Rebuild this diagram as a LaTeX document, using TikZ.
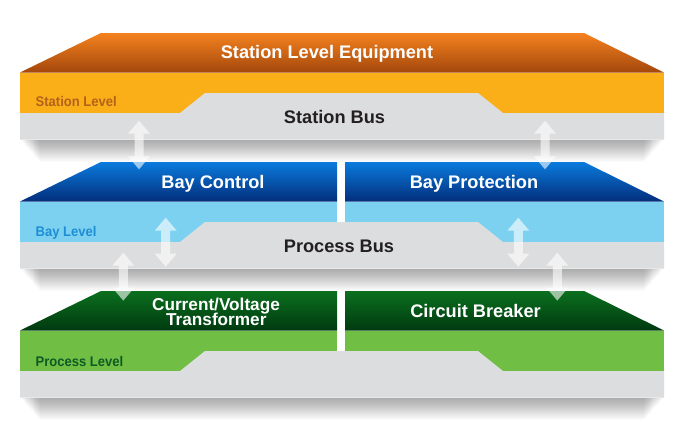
\documentclass[tikz,border=0pt]{standalone}
\usepackage{fontspec}
\setmainfont{Liberation Sans}
\usetikzlibrary{calc}
\definecolor{orTop}{HTML}{F5821F}
\definecolor{orBot}{HTML}{A3470C}
\definecolor{orBand}{HTML}{FAAF19}
\definecolor{orLbl}{HTML}{B4621A}
\definecolor{blTop}{HTML}{0A7BDD}
\definecolor{blBot}{HTML}{032E7C}
\definecolor{blBand}{HTML}{7DD1F0}
\definecolor{blLbl}{HTML}{1E8ED4}
\definecolor{grTop}{HTML}{0B6F1E}
\definecolor{grBot}{HTML}{003A10}
\definecolor{grBand}{HTML}{71BE45}
\definecolor{grLbl}{HTML}{0D5B24}
\definecolor{busGray}{HTML}{DCDDDE}
\definecolor{busTxt}{HTML}{231F20}
\newcommand\dblarr[2]{%
  \fill[arrowfill] (#1) -- ($(#1)+(11,13)$) -- ($(#1)+(4.5,13)$) -- ($(#2)+(4.5,-13)$)
    -- ($(#2)+(11,-13)$) -- (#2) -- ($(#2)+(-11,-13)$) -- ($(#2)+(-4.5,-13)$)
    -- ($(#1)+(-4.5,13)$) -- ($(#1)+(-11,13)$) -- cycle;}
\newcommand\busshape{(20,80) -- (180,80) -- (205,60) -- (478,60) -- (503,80) -- (664,80) -- (664,106.5) -- (20,106.5) -- cycle}
\newcommand\dropshadow{%
  \foreach \i in {1,...,22}{\fill[black,opacity=0.014] (20+\i*0.9,106.5) rectangle (664-\i*0.9,106.5+1.0*\i);}}
\begin{document}
\begin{tikzpicture}[x=1pt,y=-1pt,
  headtxt/.style={text=white,font=\bfseries\fontsize{18.2}{18}\selectfont,inner sep=0pt,anchor=base},
  bustxt/.style={text=busTxt,font=\bfseries\fontsize{18.2}{18}\selectfont,inner sep=0pt,anchor=base},
  lbl/.style={font=\bfseries\fontsize{14}{14}\selectfont,inner sep=0pt,anchor=base west,xscale=0.93},
  arrowfill/.style={fill=white,fill opacity=0.6}]
\useasboundingbox (0,0) rectangle (691,421);
\fill[white] (0,0) rectangle (691,421);

% ---- Station level ----
\begin{scope}[shift={(0,33)}]
  \shade[top color=orTop,bottom color=orBot] (101,0) -- (584,0) -- (664,39.5) -- (20,39.5) -- cycle;
  \fill[orBand] (20,39.5) rectangle (664,80);
  \fill[busGray] \busshape;
  \dropshadow
\end{scope}

% ---- Bay level ----
\begin{scope}[shift={(0,162)}]
  \shade[top color=blTop,bottom color=blBot] (101,0) -- (337,0) -- (337,39.5) -- (20,39.5) -- cycle;
  \shade[top color=blTop,bottom color=blBot] (345,0) -- (584,0) -- (664,39.5) -- (345,39.5) -- cycle;
  \fill[blBand] (20,39.5) rectangle (337,80);
  \fill[blBand] (345,39.5) rectangle (664,80);
  \fill[busGray] \busshape;
  \dropshadow
\end{scope}

% ---- Process level ----
\begin{scope}[shift={(0,291)}]
  \shade[top color=grTop,bottom color=grBot] (101,0) -- (337,0) -- (337,39.5) -- (20,39.5) -- cycle;
  \shade[top color=grTop,bottom color=grBot] (345,0) -- (584,0) -- (664,39.5) -- (345,39.5) -- cycle;
  \fill[grBand] (20,39.5) rectangle (337,80);
  \fill[grBand] (345,39.5) rectangle (664,80);
  \fill[busGray] \busshape;
  \dropshadow
\end{scope}

% ---- texts ----
\node[headtxt] (sle) at (327,58.3) {Station Level Equipment};
\node[lbl,text=orLbl] (sl) at (35.5,106) {Station Level};
\node[bustxt] (sb) at (334.5,123.7) {Station Bus};
\node[headtxt] (bc) at (213,188.5) {Bay Control};
\node[headtxt] (bp) at (474,188.5) {Bay Protection};
\node[lbl,text=blLbl] (bl) at (35.5,236) {Bay Level};
\node[bustxt] (pb) at (339,252.8) {Process Bus};
\node[headtxt,font=\bfseries\fontsize{17.2}{17}\selectfont] (cv) at (216,310) {Current/Voltage};
\node[headtxt,font=\bfseries\fontsize{17.2}{17}\selectfont] (tr) at (216.3,325.7) {Transformer};
\node[headtxt] (cb) at (475.5,317.8) {Circuit Breaker};
\node[lbl,text=grLbl] (pl) at (35.5,366) {Process Level};

% ---- arrows ----
\coordinate (a1t) at (139,120.7);   \coordinate (a1b) at (139,169.3);
\coordinate (a4t) at (545,120.7);   \coordinate (a4b) at (545,169.3);
\coordinate (a2t) at (165.7,217.7); \coordinate (a2b) at (165.7,266.7);
\coordinate (a5t) at (518.3,217.7); \coordinate (a5b) at (518.3,266.7);
\coordinate (a3t) at (123.3,252.7); \coordinate (a3b) at (123.3,300.6);
\coordinate (a6t) at (557.3,252.7); \coordinate (a6b) at (557.3,300.6);
\dblarr{a1t}{a1b}
\dblarr{a4t}{a4b}
\dblarr{a2t}{a2b}
\dblarr{a5t}{a5b}
\dblarr{a3t}{a3b}
\dblarr{a6t}{a6b}
\end{tikzpicture}
\end{document}
